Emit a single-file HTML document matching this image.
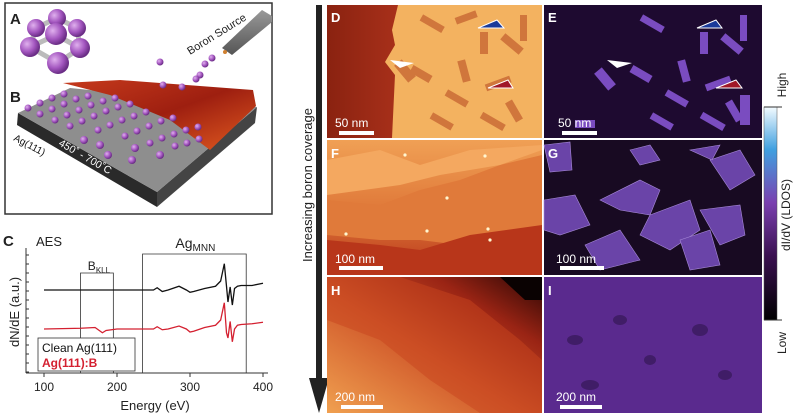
<!DOCTYPE html>
<html><head><meta charset="utf-8">
<style>
html,body{margin:0;padding:0;background:#fff;}
body{width:800px;height:417px;overflow:hidden;position:relative;font-family:"Liberation Sans",sans-serif;}
svg{position:absolute;left:0;top:0;}
</style></head>
<body>
<svg width="800" height="417" viewBox="0 0 800 417">
<defs>
  <radialGradient id="atom" cx="35%" cy="35%" r="65%"><stop offset="0" stop-color="#e0b0ee"/><stop offset="0.6" stop-color="#a356bf"/><stop offset="1" stop-color="#6a2d85"/></radialGradient>
  <linearGradient id="redsheet" x1="0" y1="0" x2="1" y2="1"><stop offset="0" stop-color="#c63a1c"/><stop offset="0.5" stop-color="#9e1f10"/><stop offset="1" stop-color="#e05a20"/></linearGradient>
  <linearGradient id="hgrad" x1="0" y1="1" x2="1" y2="0"><stop offset="0" stop-color="#f0a050"/><stop offset="0.45" stop-color="#d0582a"/><stop offset="0.75" stop-color="#9a2414"/><stop offset="1" stop-color="#2a0604"/></linearGradient>
  <linearGradient id="fgrad" x1="0" y1="0" x2="0" y2="1"><stop offset="0" stop-color="#f0a055"/><stop offset="0.5" stop-color="#e07a3a"/><stop offset="1" stop-color="#b8361a"/></linearGradient>
  <linearGradient id="cbar" x1="0" y1="1" x2="0" y2="0"><stop offset="0" stop-color="#000"/><stop offset="0.3" stop-color="#3a1050"/><stop offset="0.55" stop-color="#7a40b0"/><stop offset="0.8" stop-color="#40a0e0"/><stop offset="1" stop-color="#f4fbff"/></linearGradient>
  <linearGradient id="tipg" x1="0" y1="0" x2="0" y2="1"><stop offset="0" stop-color="#999"/><stop offset="1" stop-color="#555"/></linearGradient>
  <linearGradient id="dleft" x1="0" y1="0" x2="1" y2="0"><stop offset="0" stop-color="#8a2210"/><stop offset="1" stop-color="#a8301a"/></linearGradient>
</defs>

<g>
  <rect x="5" y="3" width="267" height="211" fill="#fff" stroke="#333" stroke-width="1.5"/>
  <text x="10" y="24" font-size="15" font-weight="bold" fill="#222">A</text>
  <g>
    <g stroke="#bbb" stroke-width="5">
      <line x1="36" y1="28" x2="57" y2="18"/><line x1="57" y1="18" x2="77" y2="28"/>
      <line x1="30" y1="47" x2="56" y2="35"/><line x1="56" y1="35" x2="80" y2="48"/>
      <line x1="30" y1="47" x2="58" y2="63"/><line x1="80" y1="48" x2="58" y2="63"/>
      <line x1="36" y1="28" x2="30" y2="47"/><line x1="77" y1="28" x2="80" y2="48"/>
    </g>
    <circle cx="57" cy="18" r="9" fill="url(#atom)"/>
    <circle cx="36" cy="28" r="9" fill="url(#atom)"/>
    <circle cx="77" cy="28" r="9" fill="url(#atom)"/>
    <circle cx="56" cy="34" r="11" fill="url(#atom)"/>
    <circle cx="30" cy="47" r="10" fill="url(#atom)"/>
    <circle cx="80" cy="48" r="10" fill="url(#atom)"/>
    <circle cx="58" cy="63" r="11" fill="url(#atom)"/>
  </g>
  <text x="10" y="102" font-size="15" font-weight="bold" fill="#222">B</text>
  <g>
    <polygon points="18,113 157,192 157,207 17,125" fill="#2a2a2a"/>
    <polygon points="157,192 257,107 255,123 157,207" fill="#444"/>
    <polygon points="18,113 70,88 257,107 157,192" fill="#8e8e8e"/>
    <polygon points="63,83 120,80 253,90 256,106 210,150 170,120 110,95" fill="url(#redsheet)"/>
    <g fill="url(#atom)">
      <circle cx="28" cy="108" r="3.5"/><circle cx="40" cy="103" r="3.5"/><circle cx="52" cy="98" r="3.5"/><circle cx="64" cy="94" r="3.5"/>
      <circle cx="40" cy="114" r="3.5"/><circle cx="52" cy="109" r="3.5"/><circle cx="64" cy="104" r="3.5"/><circle cx="76" cy="99" r="3.5"/><circle cx="88" cy="96" r="3.5"/>
      <circle cx="55" cy="120" r="3.5"/><circle cx="67" cy="115" r="3.5"/><circle cx="79" cy="110" r="3.5"/><circle cx="91" cy="105" r="3.5"/><circle cx="103" cy="101" r="3.5"/><circle cx="115" cy="98" r="3.5"/>
      <circle cx="70" cy="126" r="3.5"/><circle cx="82" cy="121" r="3.5"/><circle cx="94" cy="116" r="3.5"/><circle cx="106" cy="111" r="3.5"/><circle cx="118" cy="107" r="3.5"/><circle cx="130" cy="104" r="3.5"/>
      <circle cx="98" cy="130" r="3.5"/><circle cx="110" cy="125" r="3.5"/><circle cx="122" cy="120" r="3.5"/><circle cx="134" cy="116" r="3.5"/><circle cx="146" cy="112" r="3.5"/>
      <circle cx="125" cy="136" r="3.5"/><circle cx="137" cy="131" r="3.5"/><circle cx="149" cy="126" r="3.5"/><circle cx="161" cy="121" r="3.5"/><circle cx="173" cy="118" r="3.5"/>
      <circle cx="150" cy="143" r="3.5"/><circle cx="162" cy="138" r="3.5"/><circle cx="174" cy="134" r="3.5"/><circle cx="186" cy="130" r="3.5"/><circle cx="198" cy="127" r="3.5"/>
      <circle cx="175" cy="146" r="3.5"/><circle cx="187" cy="143" r="3.5"/><circle cx="199" cy="139" r="3.5"/>
      <circle cx="100" cy="145" r="4"/><circle cx="135" cy="148" r="4"/><circle cx="160" cy="155" r="4"/><circle cx="132" cy="160" r="4"/><circle cx="108" cy="155" r="4"/><circle cx="84" cy="140" r="4"/>
      <circle cx="160" cy="62" r="3.5"/><circle cx="205" cy="64" r="3.5"/><circle cx="212" cy="58" r="3.5"/><circle cx="200" cy="75" r="3.5"/><circle cx="196" cy="79" r="3.5"/><circle cx="163" cy="85" r="3.5"/><circle cx="182" cy="87" r="3.5"/>
    </g>
    <text x="0" y="0" font-size="10" fill="#111" transform="translate(13,140) rotate(28)">Ag(111)</text>
    <text x="0" y="0" font-size="10.5" fill="#fff" transform="translate(58,145) rotate(30)">450˚ - 700˚C</text>
  </g>
  <g>
    <polygon points="222,48 262,10 272,16 272,22 232,55" fill="url(#tipg)"/>
    <circle cx="225" cy="52" r="2" fill="#d08030"/>
    <text x="0" y="0" font-size="11" fill="#222" transform="translate(190,55) rotate(-32)">Boron Source</text>
  </g>
</g>

<g id="aes">
  <text x="3" y="246" font-size="15" font-weight="bold" fill="#222">C</text>
  <text x="36" y="246" font-size="13" fill="#222">AES</text>
  <line x1="26" y1="248" x2="26" y2="373" stroke="#333" stroke-width="1"/>
  <line x1="26" y1="373" x2="268" y2="373" stroke="#333" stroke-width="1"/>
  <g id="xticks"></g>
  <g id="yticks"></g>
  <text x="0" y="0" font-size="13" fill="#222" transform="translate(19,312) rotate(-90)" text-anchor="middle">dN/dE (a.u.)</text>
  <text x="155" y="410" font-size="13" fill="#222" text-anchor="middle">Energy (eV)</text>
  <g id="boxes"></g>
  <g id="series"></g>
  <rect x="38" y="338" width="97" height="33" fill="#fff" stroke="#333" stroke-width="0.8"/>
  <text x="42" y="352" font-size="12" fill="#111">Clean Ag(111)</text>
  <text x="42" y="367" font-size="12" font-weight="bold" fill="#d42030">Ag(111):B</text>
</g>

<g>
  <rect x="316" y="5" width="6" height="375" fill="#222"/>
  <polygon points="309,378 329,378 319,413" fill="#222"/>
  <text x="0" y="0" font-size="13" fill="#222" transform="translate(312,185) rotate(-90)" text-anchor="middle">Increasing boron coverage</text>
</g>

<g>
  <rect x="327" y="5" width="215" height="133" fill="#f3b260"/>
  <polygon points="327,5 398,5 392,30 395,45 385,62 395,75 392,138 327,138" fill="url(#dleft)"/>
  <g fill="#d0763c">
    <rect x="420" y="20" width="25" height="7" transform="rotate(30 432 23)"/>
    <rect x="460" y="60" width="8" height="22" transform="rotate(-15 464 71)"/>
    <rect x="480" y="32" width="8" height="22"/>
    <rect x="485" y="80" width="26" height="7" transform="rotate(-20 498 83)"/>
    <rect x="445" y="95" width="24" height="7" transform="rotate(30 457 98)"/>
    <rect x="510" y="100" width="8" height="22" transform="rotate(-30 514 111)"/>
    <rect x="520" y="15" width="7" height="26"/>
    <rect x="410" y="70" width="22" height="8" transform="rotate(30 421 74)"/>
    <rect x="480" y="118" width="26" height="7" transform="rotate(30 493 121)"/>
    <rect x="430" y="118" width="24" height="7" transform="rotate(30 442 121)"/>
    <rect x="500" y="40" width="24" height="8" transform="rotate(40 512 44)"/>
    <rect x="400" y="60" width="10" height="22" transform="rotate(-40 405 71)"/>
    <rect x="455" y="14" width="22" height="7" transform="rotate(-20 466 17)"/>
  </g>
  <polygon points="390,60 414,63 400,68" fill="#fff"/>
  <polygon points="504,28 478,28 497,20" fill="#1a3a9a" stroke="#fff"/>
  <polygon points="513,88 488,88 508,80" fill="#a01828" stroke="#fff"/>
  <text x="331" y="22" font-size="13" font-weight="bold" fill="#fff">D</text>
  <text x="335" y="127" font-size="12" fill="#fff">50 nm</text>
  <rect x="339" y="131" width="35" height="4" fill="#fff"/>
</g>

<g>
  <rect x="544" y="5" width="218" height="133" fill="#1e0a30"/>
  <g fill="#7a4cc0">
    <rect x="640" y="20" width="25" height="7" transform="rotate(30 652 23)"/>
    <rect x="680" y="60" width="8" height="22" transform="rotate(-15 684 71)"/>
    <rect x="700" y="32" width="8" height="22"/>
    <rect x="705" y="80" width="26" height="7" transform="rotate(-20 718 83)"/>
    <rect x="665" y="95" width="24" height="7" transform="rotate(30 677 98)"/>
    <rect x="730" y="100" width="8" height="22" transform="rotate(-30 734 111)"/>
    <rect x="740" y="15" width="7" height="26"/>
    <rect x="630" y="70" width="22" height="8" transform="rotate(30 641 74)"/>
    <rect x="700" y="118" width="26" height="7" transform="rotate(30 713 121)"/>
    <rect x="650" y="118" width="24" height="7" transform="rotate(30 662 121)"/>
    <rect x="720" y="40" width="24" height="8" transform="rotate(40 732 44)"/>
    <rect x="600" y="68" width="10" height="22" transform="rotate(-40 605 79)"/>
    <rect x="575" y="120" width="20" height="8"/>
    <rect x="740" y="95" width="10" height="30"/>
  </g>
  <polygon points="607,60 632,63 617,68" fill="#fff"/>
  <polygon points="722,28 697,28 716,20" fill="#1a3a9a" stroke="#fff"/>
  <polygon points="742,88 716,88 736,80" fill="#a01828" stroke="#fff"/>
  <text x="548" y="22" font-size="13" font-weight="bold" fill="#fff">E</text>
  <text x="558" y="127" font-size="12" fill="#fff">50 nm</text>
  <rect x="562" y="131" width="35" height="4" fill="#fff"/>
</g>

<g>
  <rect x="327" y="140" width="215" height="135" fill="url(#fgrad)"/>
  <polygon points="327,200 380,205 420,190 460,180 500,165 542,155 542,230 500,240 460,245 420,240 380,240 327,235" fill="#e07a3a"/>
  <polygon points="327,240 380,245 420,250 470,235 542,225 542,275 327,275" fill="#b8361a"/>
  <polygon points="327,160 380,150 420,165 470,150 542,145 542,150 500,165 440,175 400,185 327,195" fill="#f4a860"/>
  <g fill="#fff6d0"><circle cx="405" cy="155" r="1.6"/><circle cx="485" cy="156" r="1.6"/><circle cx="447" cy="198" r="1.6"/><circle cx="427" cy="231" r="1.6"/><circle cx="488" cy="229" r="1.6"/><circle cx="346" cy="234" r="1.6"/><circle cx="490" cy="240" r="1.6"/></g>
  <text x="331" y="158" font-size="13" font-weight="bold" fill="#fff">F</text>
  <text x="335" y="263" font-size="12" fill="#fff">100 nm</text>
  <rect x="339" y="266" width="44" height="4" fill="#fff"/>
</g>

<g>
  <rect x="544" y="140" width="218" height="135" fill="#180a22"/>
  <g fill="#6a44a8" stroke="#a88ad8" stroke-width="0.6">
    <polygon points="600,200 640,180 660,190 650,215 620,210"/>
    <polygon points="650,215 690,200 700,230 670,250 640,235"/>
    <polygon points="710,160 740,150 755,175 730,190"/>
    <polygon points="700,210 740,205 745,235 720,245"/>
    <polygon points="544,200 575,195 590,225 560,235 544,230"/>
    <polygon points="585,245 620,230 640,260 600,270"/>
    <polygon points="680,240 710,230 720,265 690,270"/>
    <polygon points="630,150 650,145 660,160 640,165"/>
    <polygon points="690,150 720,145 712,160"/>
    <polygon points="544,145 570,142 572,170 550,172"/>
  </g>
  <text x="548" y="158" font-size="13" font-weight="bold" fill="#fff">G</text>
  <text x="556" y="263" font-size="12" fill="#fff">100 nm</text>
  <rect x="560" y="266" width="44" height="4" fill="#fff"/>
</g>

<g>
  <rect x="327" y="277" width="215" height="136" fill="url(#hgrad)"/>
  <polygon points="327,277 400,277 470,300 520,340 542,360 542,413 480,413 430,380 380,340 327,320" fill="#c8441e" opacity="0.5"/>
  <polygon points="500,277 542,277 542,300 525,300" fill="#0a0202"/>
  <text x="331" y="295" font-size="13" font-weight="bold" fill="#fff">H</text>
  <text x="335" y="401" font-size="12" fill="#fff">200 nm</text>
  <rect x="341" y="405" width="42" height="4" fill="#fff"/>
</g>

<g>
  <rect x="544" y="277" width="218" height="136" fill="#5a2a8e"/>
  <g fill="#3a1a5e" opacity="0.8">
    <ellipse cx="575" cy="340" rx="8" ry="5"/><ellipse cx="620" cy="320" rx="7" ry="5"/><ellipse cx="700" cy="330" rx="8" ry="6"/><ellipse cx="725" cy="375" rx="7" ry="5"/><ellipse cx="590" cy="385" rx="9" ry="5"/><ellipse cx="650" cy="360" rx="6" ry="5"/>
  </g>
  <text x="548" y="295" font-size="13" font-weight="bold" fill="#fff">I</text>
  <text x="556" y="401" font-size="12" fill="#fff">200 nm</text>
  <rect x="560" y="405" width="42" height="4" fill="#fff"/>
</g>

<g>
  <rect x="764" y="107" width="13" height="213" fill="url(#cbar)" stroke="#555" stroke-width="0.5"/>
  <line x1="764" y1="107" x2="782" y2="107" stroke="#333"/>
  <line x1="764" y1="320" x2="782" y2="320" stroke="#333"/>
  <text x="0" y="0" font-size="12" fill="#222" transform="translate(786,85) rotate(-90)" text-anchor="middle">High</text>
  <text x="0" y="0" font-size="12" fill="#222" transform="translate(786,343) rotate(-90)" text-anchor="middle">Low</text>
  <text x="0" y="0" font-size="12" fill="#222" transform="translate(790,215) rotate(-90)" text-anchor="middle">dI/dV (LDOS)</text>
</g>
</svg>
<script>
const energies = [100,150,170,180,185,200,250,255,262,270,285,295,300,305,320,335,342,347,350,352,355,358,361,365,370,385,400];
const cleanSignal = [0,0,0,0,0,0,0,3,-2,0,5,0,-3,-2,2,5,12,35,5,-16,4,-20,2,5,6,6,9];
const boronSignal = [0,1,2,-5,-2,0,0,3,-1,0,4,0,-4,-3,2,5,12,35,-5,-12,10,-17,0,5,6,7,9];
const xTickLabels = [100,200,300,400];
const ns = 'http://www.w3.org/2000/svg';
function xScale(e){ return 44 + (e-100)*0.73; }
function yClean(v){ return 290 - v*0.75; }
function yBoron(v){ return 329 - v*0.75; }
function mk(tag, attrs, parent){ const el=document.createElementNS(ns,tag); for(const k in attrs) el.setAttribute(k,attrs[k]); parent.appendChild(el); return el; }
const xt=document.getElementById('xticks');
xTickLabels.forEach(t=>{
  const l=mk('line',{x1:xScale(t),x2:xScale(t),y1:373,y2:377,stroke:'#333'},xt);
  
  
  const tx=mk('text',{x:xScale(t),y:391,'font-size':12,'text-anchor':'middle',fill:'#222'},xt);
  tx.textContent=t;
  
  
});
const yt=document.getElementById('yticks');
for(let i=0;i<14;i++){
  const y=255+i*9;
  const l=mk('line',{x1:26,x2:29,y1:y,y2:y,stroke:'#333'},yt);
  
  
}
const bx=document.getElementById('boxes');
const bk=mk('path',{d:`M${xScale(150)},373 V273 H${xScale(195)} V373`,fill:'none',stroke:'#333','stroke-width':0.8},bx);


const bt=mk('text',{x:xScale(160),y:270,'font-size':12,fill:'#222'},bx);
bt.innerHTML='B<tspan font-size="8" dy="3">KLL</tspan>';


const ag=mk('path',{d:`M${xScale(235)},373 V254 H${xScale(377)} V373`,fill:'none',stroke:'#333','stroke-width':0.8},bx);


const at=mk('text',{x:xScale(280),y:248,'font-size':14,fill:'#222'},bx);
at.innerHTML='Ag<tspan font-size="10" dy="3">MNN</tspan>';


const sg=document.getElementById('series');
const p1=mk('path',{d:energies.map((e,i)=>(i?'L':'M')+xScale(e)+','+yClean(cleanSignal[i])).join(' '),fill:'none',stroke:'#111','stroke-width':1.3},sg);


const p2=mk('path',{d:energies.map((e,i)=>(i?'L':'M')+xScale(e)+','+yBoron(boronSignal[i])).join(' '),fill:'none',stroke:'#d42030','stroke-width':1.3},sg);


</script>
</body></html>
